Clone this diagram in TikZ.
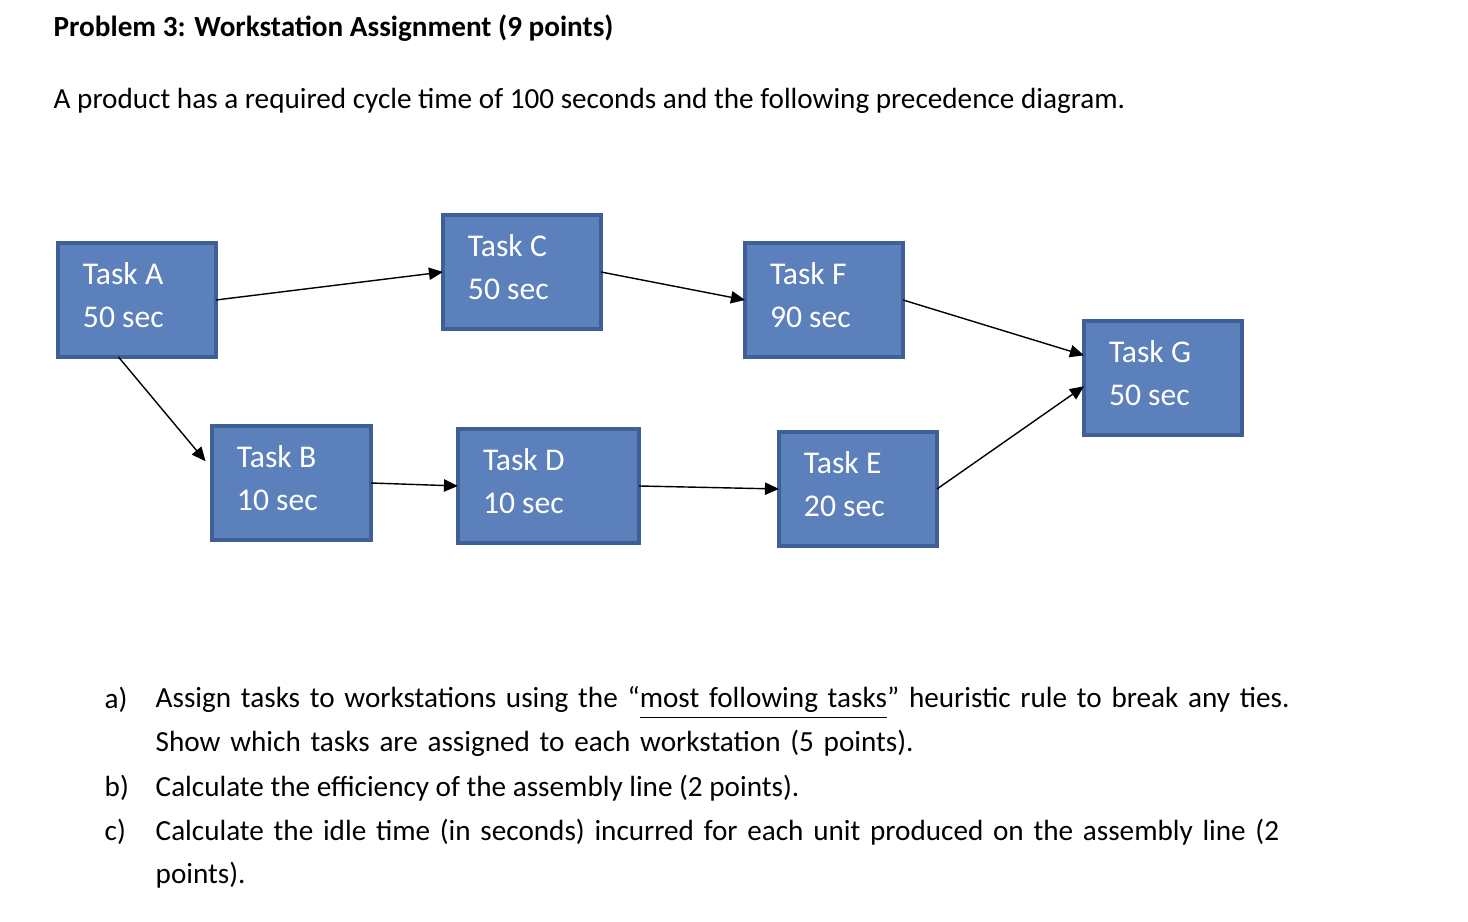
\documentclass[tikz,border=0pt]{standalone}
\usepackage{fontspec}
\setmainfont{Carlito}
\usetikzlibrary{arrows.meta}
\definecolor{boxfill}{RGB}{92,128,188}
\definecolor{boxline}{RGB}{62,96,150}
\begin{document}
\begin{tikzpicture}[x=0.01cm,y=-0.01cm]
\useasboundingbox (0,0) rectangle (1468,922);

\tikzset{TaskStyle/.style = {
 draw = boxline,
 fill = boxfill,
 line width = 1.1pt,
 text = white,
 font = \fontsize{9}{12.2}\selectfont,
 align = left,
 anchor = north west,
 inner sep = 0pt,
 outer sep = 0pt,
 minimum height = 114*0.01cm,
 text depth = 0pt} }

\tikzset{ArrowStyle/.style = {thin, -{Triangle[length=4pt,width=3.5pt]}} }

\node[anchor=north west, font=\fontsize{8.3}{10}\selectfont\bfseries, inner sep=0pt] (Title) at (53,14) {Problem 3: Workstation Assignment (9 points)};
\node[anchor=north west, font=\fontsize{8.3}{10}\selectfont, inner sep=0pt] (Intro) at (53,88) {A product has a required cycle time of 100 seconds and the following precedence diagram.};

\node[TaskStyle, minimum width=158*0.01cm] (TA) at (58,243) {};
\node[TaskStyle, minimum width=158*0.01cm] (TC) at (443,215) {};
\node[TaskStyle, minimum width=158*0.01cm] (TF) at (745,243) {};
\node[TaskStyle, minimum width=158*0.01cm] (TG) at (1084,321) {};
\node[TaskStyle, minimum width=159*0.01cm] (TB) at (212,426) {};
\node[TaskStyle, minimum width=181*0.01cm] (TD) at (458,429) {};
\node[TaskStyle, minimum width=158*0.01cm] (TE) at (779,432) {};

\foreach \t/\n/\s in {TA/A/50, TC/C/50, TF/F/90, TG/G/50, TB/B/10, TD/D/10, TE/E/20}
  \node[TaskStyle, draw=none, fill=none, minimum height=0pt, anchor=north west] at ([xshift=25*0.01cm, yshift=-20*0.01cm]\t.north west) {Task \n\\\s\ sec};

\draw[ArrowStyle] (TA.east) -- (TC.west);
\draw[ArrowStyle] (TC.east) -- (TF.west);
\draw[ArrowStyle] (TF.east) -- (TG.164);
\draw[ArrowStyle] (TE.east) -- (TG.186);
\draw[ArrowStyle, shorten >=10*0.01cm] (TA.-108) -- (TB.170);
\draw[ArrowStyle] (TB.east) -- (TD.west);
\draw[ArrowStyle] (TD.east) -- (TE.west);

\tikzset{ItemStyle/.style = {anchor=north west, inner sep=0pt, font=\fontsize{8.3}{12.5}\selectfont, align=left} }
\node[ItemStyle] (La) at (104,686) {a)};
\node[ItemStyle, text width=1200*0.01cm] (Qa) at (155,686) {Assign tasks to workstations using the “\underline{most following tasks}” heuristic rule to break any ties. Show which tasks are assigned to each workstation (5 points).};
\node[ItemStyle] (Lb) at (104,774) {b)};
\node[ItemStyle] (Qb) at (155,774) {Calculate the efficiency of the assembly line (2 points).};
\node[ItemStyle] (Lc) at (104,818) {c)};
\node[ItemStyle, text width=1180*0.01cm] (Qc) at (155,818) {Calculate the idle time (in seconds) incurred for each unit produced on the assembly line (2 points).};
\end{tikzpicture}
\end{document}
